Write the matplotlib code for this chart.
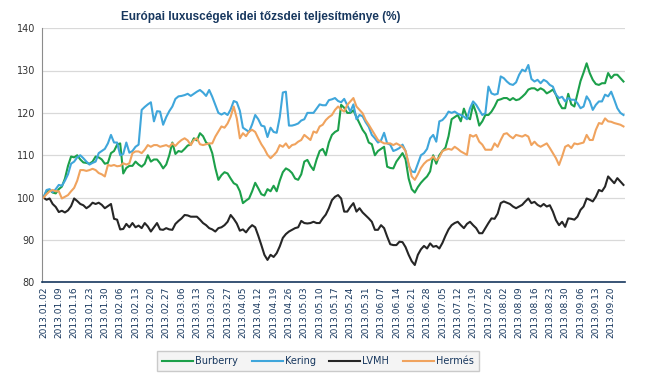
import matplotlib.pyplot as plt
import numpy as np

# tick labels (every 5th trading day)
tick_labels = ["2013.01.02", "2013.01.09", "2013.01.16", "2013.01.23", "2013.01.30",
               "2013.02.06", "2013.02.13", "2013.02.20", "2013.02.27", "2013.03.06",
               "2013.03.13", "2013.03.20", "2013.03.27", "2013.04.05", "2013.04.12",
               "2013.04.19", "2013.04.26", "2013.05.03", "2013.05.10", "2013.05.17",
               "2013.05.24", "2013.05.31", "2013.06.07", "2013.06.14", "2013.06.21",
               "2013.06.28", "2013.07.05", "2013.07.12", "2013.07.19", "2013.07.26",
               "2013.08.02", "2013.08.09", "2013.08.16", "2013.08.23", "2013.08.30",
               "2013.09.06", "2013.09.13", "2013.09.20"]

burberry = [100, 101.5, 101.8, 101.2, 101.0, 102.0, 102.6, 104.5, 107.5, 109.7,
            109.5, 110.0, 109.0, 108.3, 108.2, 108.0, 108.5, 109.7, 109.5, 109.0,
            108.0, 108.2, 110.5, 111.0, 112.5, 112.8, 105.7, 107.0, 107.5, 107.5,
            108.5, 107.8, 107.3, 108.0, 110.0, 108.5, 109.0, 109.0, 108.1, 106.9,
            107.8, 110.0, 113.0, 110.3, 111.0, 110.8, 111.5, 112.3, 112.5, 114.0,
            113.5, 115.2, 114.5, 113.0, 112.5, 110.5, 107.0, 104.2, 105.3, 106.0,
            105.7, 104.5, 103.4, 103.0, 101.5, 98.7, 99.3, 99.8, 101.5, 103.5,
            102.2, 100.8, 100.5, 102.0, 101.5, 102.8, 101.5, 104.0, 106.0, 106.9,
            106.5, 105.8, 104.5, 104.2, 105.5, 108.5, 108.9, 107.5, 106.5, 109.0,
            111.0, 111.5, 110.0, 113.0, 114.8, 115.5, 115.9, 121.9, 121.2, 120.0,
            120.0, 120.6, 119.0, 117.5, 116.0, 115.0, 113.0, 112.6, 110.0, 111.0,
            111.5, 112.0, 107.3, 107.0, 106.9, 108.5, 109.5, 110.5, 109.0, 104.5,
            102.0, 101.2, 102.5, 103.5, 104.3, 105.0, 106.2, 110.0, 108.0, 110.0,
            111.0, 111.8, 114.5, 118.5, 119.0, 119.5, 118.0, 121.0, 119.0, 118.5,
            122.0, 120.0, 117.0, 118.0, 119.5, 119.5, 120.3, 121.5, 123.0, 123.2,
            123.5, 123.5, 123.0, 123.5, 123.0, 123.2, 123.8, 124.5, 125.5, 125.8,
            125.8, 125.3, 125.8, 125.4, 124.6, 125.0, 125.5, 124.3, 122.3, 121.1,
            121.1, 124.5, 122.0, 121.5, 124.5, 127.5, 129.5, 131.7, 129.4, 127.8,
            126.8, 126.6, 127.0, 127.0, 129.4, 128.2, 129.0, 129.0, 128.2, 127.4]

kering = [100, 101.8, 102.0, 101.3, 102.0, 103.0, 102.8, 104.0, 105.5, 108.0,
          108.5, 109.5, 110.0, 109.3, 108.5, 107.8, 108.2, 108.5, 110.5, 111.0,
          111.5, 112.8, 114.8, 113.0, 113.0, 110.0, 110.3, 113.0, 110.6, 111.0,
          112.0, 112.5, 120.7, 121.4, 122.0, 122.5, 118.0, 120.4, 120.3, 117.2,
          119.0, 120.4, 121.5, 123.3, 123.9, 124.0, 124.2, 124.5, 124.0, 124.5,
          125.0, 125.4, 124.8, 124.0, 125.4, 123.8, 121.9, 120.0, 119.6, 120.0,
          119.5, 120.8, 122.8, 122.5, 120.5, 116.5, 116.0, 115.5, 117.3, 119.5,
          118.5, 117.0, 116.8, 114.3, 116.5, 115.5, 115.3, 119.0, 124.8, 125.0,
          117.0, 117.0, 117.2, 117.5, 118.2, 118.5, 120.0, 120.0, 120.0, 121.0,
          122.0, 121.8, 121.8, 123.0, 123.2, 123.5, 122.8, 122.5, 123.3, 121.8,
          120.3, 122.0, 118.5, 119.5, 119.2, 117.8, 116.7, 114.8, 114.0, 113.0,
          113.5, 115.3, 112.8, 112.5, 111.0, 111.3, 111.7, 112.5, 111.0, 107.5,
          106.2, 106.0, 108.0, 110.0, 110.5, 111.5, 114.0, 114.8, 113.2, 118.0,
          118.3, 119.1, 120.3, 120.0, 120.3, 119.8, 119.5, 119.1, 118.5, 121.1,
          122.7, 121.9, 120.7, 119.5, 119.9, 126.2, 124.6, 124.3, 124.5, 128.6,
          128.2, 127.4, 126.8, 126.6, 127.2, 129.0, 130.2, 129.8, 131.3, 128.0,
          127.4, 127.8, 127.0, 127.8, 127.4, 126.6, 126.2, 124.3, 123.5, 123.8,
          122.7, 123.5, 123.1, 123.1, 122.3, 121.1, 121.5, 123.9, 122.8, 120.7,
          121.9, 122.7, 122.7, 124.3, 123.9, 125.0, 123.1, 121.1, 120.0, 119.5]

lvmh = [100, 99.5, 99.8, 98.5, 97.8, 96.6, 96.9, 96.5, 97.0, 98.0,
        99.8, 99.2, 98.5, 98.2, 97.5, 98.0, 98.8, 98.5, 98.8, 98.3,
        97.5, 98.0, 98.5, 95.0, 94.8, 92.5, 92.6, 93.8, 93.0, 94.0,
        93.0, 93.4, 92.8, 94.0, 93.2, 92.0, 93.0, 94.0, 92.5, 92.4,
        92.8, 92.5, 92.4, 93.8, 94.5, 95.1, 95.9, 95.8, 95.5, 95.5,
        95.5, 94.8, 94.0, 93.5, 92.8, 92.5, 92.0, 92.8, 93.0, 93.5,
        94.3, 95.9, 95.0, 93.9, 92.2, 92.5, 91.8, 92.8, 93.5, 93.0,
        91.0, 88.8, 86.5, 85.3, 86.5, 86.0, 86.9, 88.5, 90.5, 91.4,
        92.0, 92.4, 92.8, 93.0, 94.5, 94.0, 93.9, 94.0, 94.3, 94.0,
        94.0, 95.1, 96.0, 97.5, 99.4, 100.2, 100.6, 99.8, 96.7, 96.7,
        97.8, 98.7, 96.7, 97.5, 96.5, 95.8, 95.1, 94.3, 92.4, 92.4,
        93.5, 92.8, 90.8, 89.0, 88.8, 88.8, 89.6, 89.5, 88.3, 86.5,
        85.0, 84.1, 86.5, 87.8, 88.6, 88.0, 89.2, 88.4, 88.6, 88.0,
        89.3, 91.0, 92.5, 93.5, 94.0, 94.3, 93.5, 92.8, 93.8, 94.3,
        93.5, 92.8, 91.6, 91.6, 92.8, 94.0, 95.1, 95.0, 96.2, 98.7,
        99.1, 98.8, 98.5, 97.9, 97.5, 97.9, 98.3, 99.1, 99.8, 98.7,
        99.0, 98.3, 97.9, 98.5, 97.9, 98.2, 96.7, 94.7, 93.5, 94.3,
        93.1, 95.1, 95.0, 94.8, 95.5, 97.1, 97.9, 99.8, 99.5, 99.1,
        100.2, 101.8, 101.5, 102.6, 105.0, 104.2, 103.4, 104.6, 103.8, 103.0]

hermes = [100, 100.8, 101.5, 101.8, 101.5, 101.5, 99.8, 100.2, 100.6, 101.5,
          102.3, 104.0, 106.5, 106.5, 106.3, 106.5, 106.8, 106.5, 105.8, 105.5,
          105.0, 107.7, 107.5, 107.7, 107.4, 107.5, 108.1, 107.8, 108.1, 110.5,
          110.9, 110.9, 110.5, 111.3, 112.4, 112.0, 112.4, 112.4, 112.0, 112.2,
          112.4, 112.0, 112.8, 112.2, 113.0, 113.6, 114.0, 113.5, 112.4, 113.6,
          114.0, 112.6, 112.4, 112.6, 112.8, 112.8, 114.4, 115.6, 116.8, 116.5,
          117.5, 119.1, 121.5, 118.7, 114.0, 115.2, 114.5, 115.6, 116.0, 115.5,
          114.0, 112.6, 111.5, 110.1, 109.3, 110.0, 110.8, 112.4, 112.0, 112.8,
          111.7, 112.4, 112.6, 113.2, 113.6, 114.8, 114.2, 113.6, 115.6, 115.3,
          116.8, 117.2, 118.3, 119.0, 119.5, 120.7, 121.5, 120.8, 120.3, 121.9,
          122.7, 123.5, 121.5, 120.7, 119.9, 118.3, 117.2, 116.0, 114.8, 113.6,
          113.2, 112.8, 112.8, 112.8, 112.4, 112.8, 112.4, 112.0, 111.0, 108.0,
          105.0, 104.2, 105.5, 107.0, 108.0, 108.7, 109.0, 109.7, 108.8, 109.5,
          111.0, 111.3, 111.5, 111.3, 112.0, 111.5, 110.9, 110.5, 110.1, 114.8,
          114.4, 114.8, 113.2, 112.5, 111.3, 111.3, 111.3, 112.8, 112.0, 113.6,
          115.0, 115.2, 114.5, 114.0, 114.8, 114.6, 114.4, 114.8, 114.4, 112.4,
          113.2, 112.4, 112.0, 112.4, 112.8, 111.7, 110.5, 109.3, 107.7, 109.7,
          112.0, 112.4, 111.7, 112.8, 112.6, 112.8, 113.0, 114.8, 113.6, 113.6,
          116.0, 117.6, 117.4, 118.7, 118.0, 117.9, 117.6, 117.4, 117.2, 116.8]

navy = "#17375e"
fig = plt.figure(figsize=(6.45, 3.75), dpi=100)
ax = fig.add_axes([0.065, 0.247, 0.904, 0.678])

x = np.arange(len(burberry))
ax.plot(x, burberry, color="#1ca04a", lw=1.5, label="Burberry")
ax.plot(x, kering, color="#3fa6db", lw=1.5, label="Kering")
ax.plot(x, lvmh, color="#262626", lw=1.5, label="LVMH")
ax.plot(x, hermes, color="#f0a35e", lw=1.5, label="Hermés")

ax.set_xlim(-0.5, len(burberry) - 0.5)
ax.set_ylim(80, 140)
ax.set_yticks(range(80, 141, 10))
ax.set_xticks(np.arange(len(tick_labels)) * 5)
ax.set_xticklabels(tick_labels, rotation=90, fontsize=6.5, color=navy)
ax.tick_params(axis="y", labelsize=7, colors="#333333", length=0, pad=5)
ax.tick_params(axis="x", length=0, pad=3)
ax.grid(axis="y", color="#d9d9d9", lw=0.9)
ax.set_axisbelow(True)
for s in ["top", "right"]:
    ax.spines[s].set_visible(False)
ax.spines["left"].set_color("#8c8c8c")
ax.spines["bottom"].set_color(navy)
ax.spines["bottom"].set_linewidth(1.2)

fig.text(0.405, 0.955, "Európai luxuscégek idei tőzsdei teljesítménye (%)",
         ha="center", va="center", fontsize=8.5, color=navy,
         family="Liberation Sans", weight="bold")

leg = fig.legend(loc="center", bbox_to_anchor=(0.493, 0.037), ncol=4,
                 fontsize=7, frameon=True, fancybox=False, handlelength=3.2,
                 columnspacing=1.4, handletextpad=0.2, borderpad=0.5)
leg.get_frame().set_facecolor("#f2f2f2")
leg.get_frame().set_edgecolor("#bfbfbf")
for t in leg.get_texts():
    t.set_color(navy)

fig.savefig("out.png", dpi=100)
